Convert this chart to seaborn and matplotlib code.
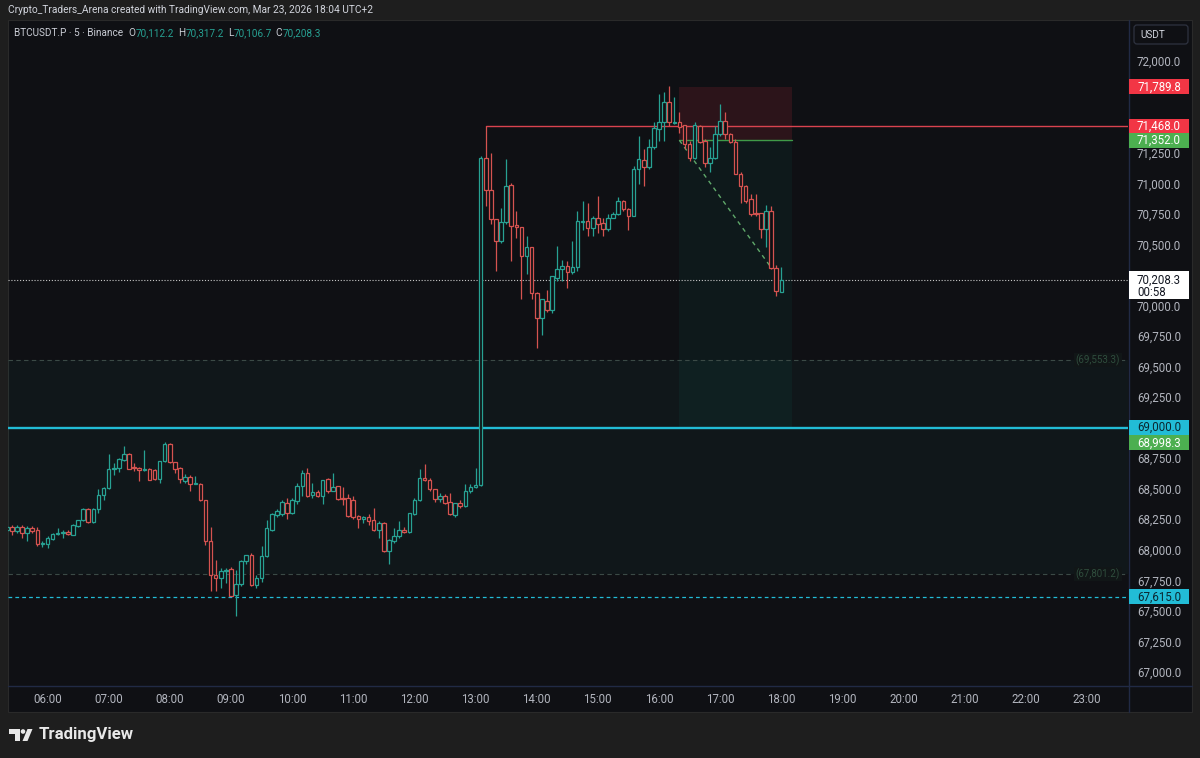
import matplotlib
matplotlib.use("Agg")
import matplotlib.pyplot as plt
import matplotlib.transforms as mtransforms
from matplotlib.patches import Rectangle, FancyBboxPatch, Polygon, Circle
import numpy as np
import pandas as pd
import seaborn as sns

# ---- data (5 minute BTCUSDT.P bars) ----
bar_start = "2026-03-23 05:20"
opens = [68160, 68185, 68150, 68190, 68140, 68180, 68160, 68045, 68045, 68090,
         68128, 68135, 68145, 68125, 68195, 68240, 68335, 68225, 68330, 68450,
         68505, 68660, 68670, 68735, 68785, 68680, 68670, 68655, 68665, 68650,
         68578, 68725, 68870, 68715, 68670, 68565, 68595, 68540, 68540, 68405,
         68075, 67795, 67765, 67825, 67845, 67630, 67720, 67905, 67960, 67715,
         67770, 67945, 68165, 68285, 68290, 68385, 68300, 68400, 68520, 68630,
         68450, 68475, 68440, 68580, 68480, 68520, 68425, 68425, 68410, 68275,
         68255, 68265, 68240, 68165, 68220, 67990, 68070, 68110, 68165, 68145,
         68295, 68405, 68590, 68575, 68495, 68415, 68440, 68390, 68285, 68385,
         68360, 68480, 68510, 68530, 71205, 70945, 70705, 70525, 70680, 70990,
         70660, 70640, 70405, 70480, 70105, 69900, 70040, 69960, 70225, 70300,
         70320, 70275, 70315, 70680, 70690, 70635, 70720, 70675, 70625, 70720,
         70745, 70855, 70790, 70735, 71115, 71190, 71130, 71294, 71445, 71500,
         71665, 71490, 71505, 71475, 71320, 71210, 71470, 71350, 71165, 71205,
         71400, 71510, 71400, 71340, 71075, 70980, 70870, 70760, 70760, 70625,
         70775, 70310, 70112.2]
highs = [68195, 68205, 68200, 68200, 68195, 68195, 68185, 68070, 68110, 68135,
         68180, 68165, 68165, 68210, 68245, 68345, 68345, 68340, 68495, 68510,
         68785, 68710, 68755, 68850, 68790, 68710, 68675, 68815, 68670, 68660,
         68730, 68880, 68875, 68720, 68680, 68620, 68615, 68600, 68545, 68410,
         68185, 67920, 67850, 67850, 67855, 67835, 67920, 67960, 67975, 67795,
         68030, 68245, 68300, 68330, 68405, 68425, 68420, 68550, 68650, 68670,
         68545, 68490, 68575, 68590, 68630, 68525, 68510, 68460, 68440, 68285,
         68275, 68295, 68345, 68235, 68225, 68085, 68180, 68235, 68190, 68305,
         68425, 68660, 68700, 68590, 68500, 68465, 68455, 68465, 68385, 68410,
         68535, 68540, 68670, 71225, 71468, 71250, 70710, 70800, 71200, 71000,
         70775, 70640, 70570, 70480, 70110, 70050, 70130, 70240, 70485, 70375,
         70360, 70525, 70775, 70855, 70835, 70735, 70895, 70720, 70745, 70765,
         70890, 70860, 70795, 71145, 71390, 71280, 71362, 71500, 71730, 71745,
         71800, 71705, 71580, 71480, 71350, 71500, 71475, 71360, 71295, 71470,
         71650, 71580, 71410, 71360, 71090, 70985, 70910, 70910, 70760, 70820,
         70815, 70330, 70317.2]
lows = [68150, 68125, 68140, 68100, 68070, 68140, 68035, 68020, 68015, 68080,
        68120, 68100, 68120, 68120, 68185, 68235, 68220, 68220, 68300, 68410,
        68495, 68615, 68640, 68725, 68665, 68645, 68560, 68645, 68575, 68575,
        68550, 68720, 68710, 68630, 68550, 68550, 68480, 68535, 68400, 68040,
        67660, 67660, 67685, 67725, 67620, 67455, 67700, 67880, 67700, 67690,
        67740, 67940, 68150, 68270, 68275, 68255, 68290, 68375, 68440, 68430,
        68420, 68435, 68375, 68465, 68480, 68405, 68370, 68265, 68255, 68180,
        68220, 68205, 68155, 68100, 67985, 67880, 68055, 68095, 68135, 68140,
        68285, 68400, 68565, 68485, 68395, 68390, 68375, 68285, 68265, 68345,
        68350, 68465, 68505, 68520, 70815, 70665, 70280, 70515, 70670, 70365,
        70555, 70050, 70255, 70050, 69650, 69760, 69950, 69940, 70200, 70200,
        70140, 70255, 70280, 70620, 70570, 70570, 70595, 70570, 70610, 70715,
        70740, 70775, 70620, 70730, 70995, 70980, 71120, 71280, 71350, 71350,
        71470, 71485, 71415, 71280, 71185, 71200, 71330, 71130, 71090, 71200,
        71390, 71360, 71330, 71075, 70840, 70840, 70735, 70735, 70555, 70475,
        70295, 70075, 70106.7]
closes = [68185, 68150, 68190, 68140, 68180, 68150, 68045, 68055, 68095, 68130,
          68140, 68142, 68130, 68200, 68240, 68330, 68225, 68330, 68450, 68505,
          68665, 68670, 68740, 68785, 68665, 68670, 68655, 68665, 68575, 68578,
          68725, 68870, 68715, 68660, 68580, 68595, 68535, 68550, 68405, 68075,
          67790, 67770, 67825, 67835, 67625, 67720, 67905, 67955, 67715, 67770,
          67945, 68180, 68295, 68320, 68390, 68300, 68410, 68520, 68630, 68440,
          68470, 68440, 68575, 68480, 68510, 68415, 68415, 68275, 68270, 68255,
          68265, 68235, 68165, 68220, 67990, 68080, 68110, 68165, 68145, 68300,
          68410, 68590, 68570, 68495, 68415, 68440, 68385, 68290, 68380, 68360,
          68480, 68510, 68530, 71210, 70945, 70705, 70525, 70680, 70980, 70650,
          70640, 70405, 70480, 70105, 69900, 70050, 69960, 70240, 70295, 70320,
          70275, 70315, 70690, 70690, 70635, 70720, 70665, 70630, 70720, 70745,
          70855, 70790, 70735, 71115, 71195, 71130, 71294, 71450, 71505, 71663,
          71500, 71505, 71460, 71320, 71210, 71475, 71335, 71170, 71205, 71405,
          71510, 71400, 71335, 71075, 70980, 70855, 70745, 70745, 70625, 70775,
          70310, 70115, 70208.3]

countdown = "00:58"
support_level = 69000.0
dashed_level = 67615.0
zone_top, zone_bottom = 69553.3, 67801.2
ray_level, ray_start = 71468.0, "13:10"
pos_start, pos_end = "16:20", "18:10"
pos_entry, pos_stop, pos_target = 71352.0, 71789.8, 68998.3
diag_end_time, diag_end_price = "17:50", 70310.0
hour_ticks = list(range(6, 24))
# price scale labels that are not hidden behind the coloured tags
price_ticks = [67000, 67250, 67500, 67750, 68000, 68250, 68500, 68750, 69000, 69250,
               69500, 69750, 70000, 70500, 70750, 71000, 71250, 72000]

# ---- style ----
OUTER = "#1e1e1e"
PANEL = "#0f1014"
SEP = "#212a45"
UP = "#27a193"
DOWN = "#d55350"
TXT = "#b2b5be"
CYAN = "#22bcd6"

sns.set_theme(style="dark", rc={"axes.facecolor": PANEL, "figure.facecolor": OUTER})
plt.rcParams["font.family"] = ["Roboto", "DejaVu Sans"]


def hhmm(s):
    h, m = s.split(":")
    return int(h) + int(m) / 60


times = pd.date_range(bar_start, periods=len(opens), freq="5min")
df = pd.DataFrame({"open": opens, "high": highs, "low": lows, "close": closes})
df["x"] = times.hour + times.minute / 60
df["up"] = df["close"] >= df["open"]
df["color"] = np.where(df["up"], UP, DOWN)

W, H = 1200, 758
XMIN, XMAX = 5.354, 23.669
YMIN, YMAX = 66893, 72337

fig = plt.figure(figsize=(12, 7.58), dpi=100)
fig.patch.set_facecolor(OUTER)

# background / frame in pixel coordinates
bg = fig.add_axes([0, 0, 1, 1], zorder=-1)
bg.set_xlim(0, W)
bg.set_ylim(H, 0)
bg.axis("off")
bg.add_patch(Rectangle((8, 20), 1184, 692, fc=PANEL, ec="#2a2a2a", lw=0.8))
bg.plot([1128.5, 1128.5], [20, 712], color=SEP, lw=1)
bg.plot([8, 1192], [685.5, 685.5], color=SEP, lw=1)
bg.add_patch(FancyBboxPatch((1134, 25), 54, 19, boxstyle="round,pad=0,rounding_size=3",
                            fc=PANEL, ec="#2e3240", lw=0.9))
bg.text(1140, 35, "USDT", color="#d1d4dc", fontsize=7.2, va="center", ha="left")

bg.text(8, 10, "Crypto_Traders_Arena created with TradingView.com, Mar 23, 2026 18:04 UTC+2",
        color="#d1d4dc", fontsize=7.3, va="center", ha="left")

# symbol / OHLC line
last = df.iloc[-1]
pieces = [("BTCUSDT.P · 5 · Binance", "#c9ccd4", 0),
          ("O", "#c9ccd4", 4), (f"{last.open:,.1f}", UP, 0),
          ("H", "#c9ccd4", 3), (f"{last.high:,.1f}", UP, 0),
          ("L", "#c9ccd4", 3), (f"{last.low:,.1f}", UP, 0),
          ("C", "#c9ccd4", 3), (f"{last.close:,.1f}", UP, 0)]
prev = bg.text(14, 33, pieces[0][0], color=pieces[0][1], fontsize=7.2, va="center", ha="left")
for s, c, gap in pieces[1:]:
    prev = bg.annotate(s, xy=(1, 0), xycoords=prev, xytext=(gap, 0), textcoords="offset points",
                       va="bottom", ha="left", color=c, fontsize=7.2)

# TradingView logo
bg.add_patch(Polygon([(9, 729), (20, 729), (20, 741), (15, 741), (15, 734), (9, 734)],
                     closed=True, fc="#e8e8e8", ec="none"))
bg.add_patch(Circle((23, 731.5), 2.3, fc="#e8e8e8", ec="none"))
bg.add_patch(Polygon([(22.5, 741), (27.5, 741), (32.5, 729), (27.5, 729)], closed=True,
                     fc="#e8e8e8", ec="none"))
bg.text(39, 735, "TradingView", color="#e8e8e8", fontsize=12.1, fontweight="semibold",
        va="center", ha="left")

# main chart
ax = fig.add_axes([8 / W, 1 - 685 / H, 1120 / W, 665 / H])
ax.set_facecolor("none")
ax.set_xlim(XMIN, XMAX)
ax.set_ylim(YMIN, YMAX)
ax.grid(False)

# zones and drawings
ax.axhspan(zone_bottom, zone_top, color="#2a9d8f", alpha=0.055, lw=0, zorder=0.5)
for lvl in (zone_top, zone_bottom):
    ax.axhline(lvl, color="#3b4a46", lw=0.8, ls=(0, (4, 3)), zorder=1)
    ax.text(0.993, lvl, f"({lvl:,.1f})", transform=ax.get_yaxis_transform(), color="#2f4d3d",
            fontsize=7, ha="right", va="center", zorder=1,
            bbox=dict(boxstyle="square,pad=0.15", fc="#111617", ec="none"))

p0, p1 = hhmm(pos_start), hhmm(pos_end)
ax.add_patch(Rectangle((p0, pos_entry), p1 - p0, pos_stop - pos_entry, fc="#f23645",
                       alpha=0.13, lw=0, zorder=0.6))
ax.add_patch(Rectangle((p0, pos_target), p1 - p0, pos_entry - pos_target, fc="#089981",
                       alpha=0.07, lw=0, zorder=0.6))
ax.plot([p0, p1], [pos_entry, pos_entry], color="#3f9a48", lw=1, zorder=1.5)
ax.plot([p0, hhmm(diag_end_time)], [pos_entry, diag_end_price], color="#5fa86a", lw=1,
        ls=(0, (3, 3)), zorder=1.5)

ax.axhline(support_level, color=CYAN, lw=1.7, zorder=2)
ax.axhline(dashed_level, color=CYAN, lw=0.9, ls=(0, (3, 2.5)), zorder=2)
r0 = hhmm(ray_start)
ax.plot([r0, XMAX], [ray_level, ray_level], color="#d9434f", lw=1, zorder=2)
ax.axhline(last.close, color="#c8c8c8", lw=0.8, ls=(0, (1, 1.6)), zorder=2)

# candles (hollow)
bw = 0.7 * 5 / 60
ax.vlines(df["x"], df["low"], df["high"], colors=df["color"], lw=0.9, zorder=3)
body_lo = df[["open", "close"]].min(axis=1)
body_h = (df["close"] - df["open"]).abs().clip(lower=3)
ax.bar(df["x"], body_h, bottom=body_lo, width=bw, facecolor=PANEL, edgecolor=df["color"],
       linewidth=0.9, zorder=4)

# axes / ticks
sns.despine(ax=ax, left=True, top=True, right=True, bottom=True)
ax.yaxis.tick_right()
ax.set_yticks(price_ticks)
ax.set_yticklabels([f"{v:,.1f}" for v in price_ticks])
ax.set_xticks(hour_ticks)
ax.set_xticklabels([f"{h:02d}:00" for h in hour_ticks])
ax.tick_params(axis="y", length=0, pad=6.5, labelsize=8.3, labelcolor=TXT)
ax.tick_params(axis="x", length=0, pad=6, labelsize=8.3, labelcolor=TXT)

# price tags on the scale
px = (YMAX - YMIN) / 665
trans = mtransforms.blended_transform_factory(ax.transAxes, ax.transData)
tag_x0, tag_w = 1 + 1 / 1120, 60 / 1120


def tag(price, label, fc, tc, shift_px=0, h_px=15):
    yc = price - shift_px * px
    ax.add_patch(Rectangle((tag_x0, yc - h_px / 2 * px), tag_w, h_px * px, transform=trans,
                           fc=fc, ec="none", clip_on=False, zorder=10))
    ax.text(tag_x0 + tag_w / 2, yc, label, transform=trans, color=tc, fontsize=8.3,
            ha="center", va="center", clip_on=False, zorder=11)


tag(pos_stop, f"{pos_stop:,.1f}", "#f23645", "white")
tag(ray_level, f"{ray_level:,.1f}", "#f23645", "white")
tag(pos_entry, f"{pos_entry:,.1f}", "#4caf50", "white")
tag(support_level, f"{support_level:,.1f}", CYAN, "#0b2730")
tag(pos_target, f"{pos_target:,.1f}", "#4caf50", "white", shift_px=15)
tag(dashed_level, f"{dashed_level:,.1f}", CYAN, "#0b2730")

# current price + countdown
ax.add_patch(Rectangle((tag_x0, last.close - 19 * px), tag_w, 28 * px, transform=trans,
                       fc="white", ec="none", clip_on=False, zorder=10))
ax.text(tag_x0 + tag_w / 2, last.close, f"{last.close:,.1f}", transform=trans, color="#131722",
        fontsize=8.3, ha="center", va="center", clip_on=False, zorder=11)
ax.text(tag_x0 + 8 / 1120, last.close - 12.5 * px, countdown, transform=trans, color="#131722",
        fontsize=8.3, ha="left", va="center", clip_on=False, zorder=11)

fig.savefig("out.png", dpi=100, facecolor=OUTER)
